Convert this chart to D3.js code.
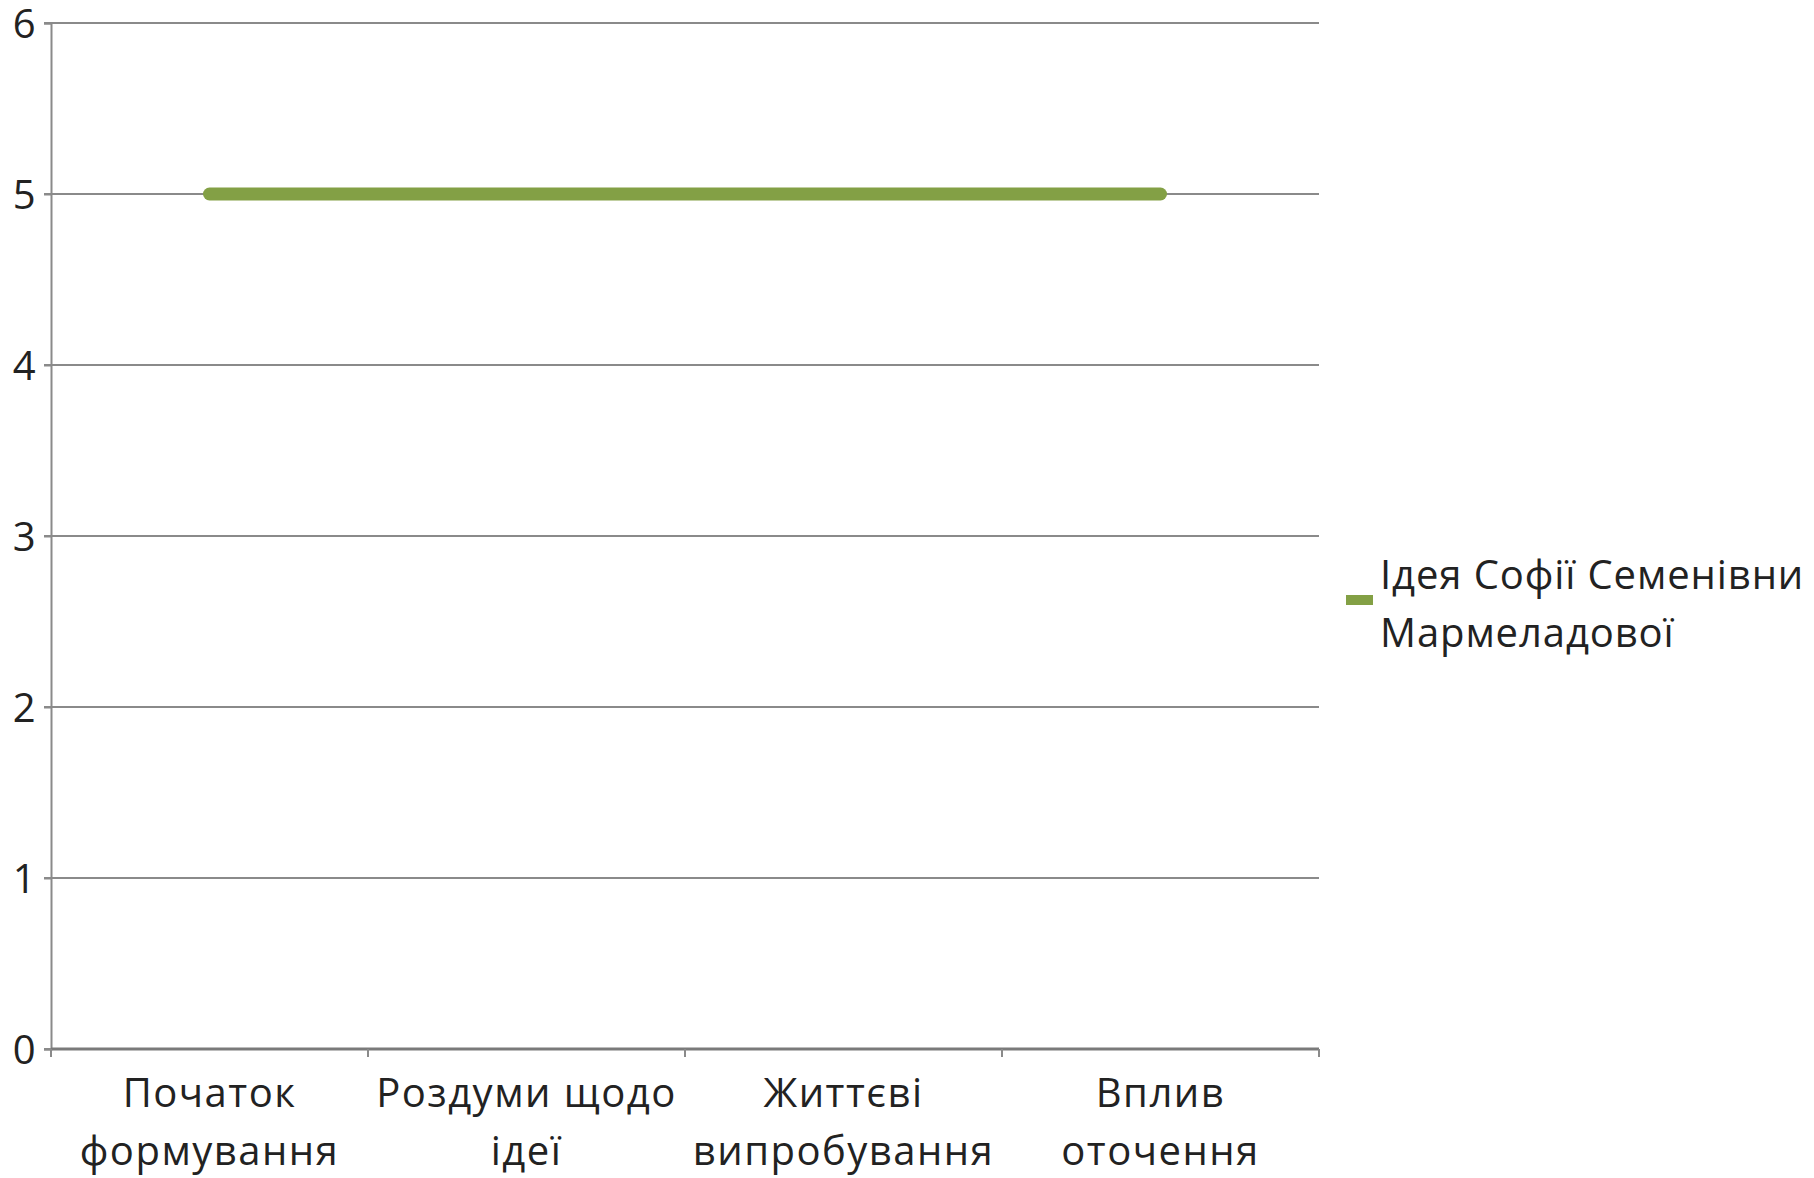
<!DOCTYPE html>
<html>
<head>
<meta charset="utf-8">
<script src="https://cdn.jsdelivr.net/npm/d3@7"></script>
<style>
  body { margin: 0; background: #fff; }
  text { font-family: "Open Sans", sans-serif; fill: #222; letter-spacing: 1.5px; }
  text.legend { letter-spacing: 0.9px; }
</style>
</head>
<body>
<div id="graph"></div>
<script>
// Chart data
var categories = [["Початок", "формування"], ["Роздуми щодо", "ідеї"], ["Життєві", "випробування"], ["Вплив", "оточення"]];
var series_values = [5, 5, 5, 5];
var series_name = ["Ідея Софії Семенівни", "Мармеладової"];
var y_ticks = [0, 1, 2, 3, 4, 5, 6];

var width = 1814, height = 1178;
var plot_left = 51, plot_right = 1319, plot_top = 23, plot_bottom = 1049;
var font_size = 40;

var chart = d3.select("#graph")
              .append("svg")
                .attr("width", width)
                .attr("height", height);

var xscale = d3.scaleBand()
               .domain(d3.range(categories.length))
               .range([plot_left, plot_right]);

var yscale = d3.scaleLinear()
               .domain([0, 6])
               .range([plot_bottom, plot_top]);

// Gridlines
chart.selectAll(".grid")
     .data(y_ticks)
     .enter()
       .append("line")
       .attr("x1", plot_left - 7)
       .attr("x2", plot_right)
       .attr("y1", function (d) { return yscale(d); })
       .attr("y2", function (d) { return yscale(d); })
       .attr("stroke", "#8a8a8a")
       .attr("stroke-width", 2);

// Y axis
var y_axis = d3.axisLeft(yscale).tickValues(y_ticks).tickSize(7).tickPadding(10).tickFormat(d3.format("d"));
var yg = chart.append("g")
              .attr("transform", "translate(" + plot_left + ",0)")
              .call(y_axis);
yg.select(".domain").attr("stroke", "#8a8a8a").attr("stroke-width", 2);
yg.selectAll(".tick line").attr("stroke", "#8a8a8a").attr("stroke-width", 2);
yg.selectAll("text")
  .attr("font-size", font_size)
  .attr("fill", "#222")
  .attr("font-family", "Open Sans")
  .attr("x", -14)
  .attr("dy", "0.36em");

// X axis: ticks at band edges
var edges = d3.range(categories.length + 1).map(function (i) {
  return plot_left + i * xscale.bandwidth();
});
chart.append("line")
     .attr("x1", plot_left).attr("x2", plot_right)
     .attr("y1", plot_bottom).attr("y2", plot_bottom)
     .attr("stroke", "#7a7a7a").attr("stroke-width", 3);
chart.selectAll(".xtick")
     .data(edges)
     .enter()
       .append("line")
       .attr("x1", function (d) { return d; })
       .attr("x2", function (d) { return d; })
       .attr("y1", plot_bottom)
       .attr("y2", plot_bottom + 8)
       .attr("stroke", "#8a8a8a")
       .attr("stroke-width", 2);

// Category labels (two lines)
var labels = chart.selectAll(".xlabel")
     .data(categories)
     .enter()
       .append("text")
       .attr("text-anchor", "middle")
       .attr("font-size", font_size)
       .attr("transform", function (d, i) {
         return "translate(" + (xscale(i) + xscale.bandwidth() / 2) + "," + 1107 + ")";
       });
labels.selectAll("tspan")
      .data(function (d) { return d; })
      .enter()
        .append("tspan")
        .attr("x", 0)
        .attr("y", function (d, i) { return i * 58; })
        .text(function (d) { return d; });

// Series line
var line = d3.line()
             .x(function (d, i) { return xscale(i) + xscale.bandwidth() / 2; })
             .y(function (d) { return yscale(d); });
chart.append("path")
     .datum(series_values)
     .attr("d", line)
     .attr("fill", "none")
     .attr("stroke", "#83a045")
     .attr("stroke-width", 13)
     .attr("stroke-linecap", "round");

// Legend
chart.append("rect")
     .attr("x", 1346).attr("y", 595)
     .attr("width", 27).attr("height", 10)
     .attr("fill", "#83a045");
chart.append("text")
     .attr("class", "legend")
     .attr("font-size", font_size)
     .selectAll("tspan")
     .data(series_name)
     .enter()
       .append("tspan")
       .attr("x", 1380)
       .attr("y", function (d, i) { return 589 + i * 58; })
       .text(function (d) { return d; });
</script>
</body>
</html>
